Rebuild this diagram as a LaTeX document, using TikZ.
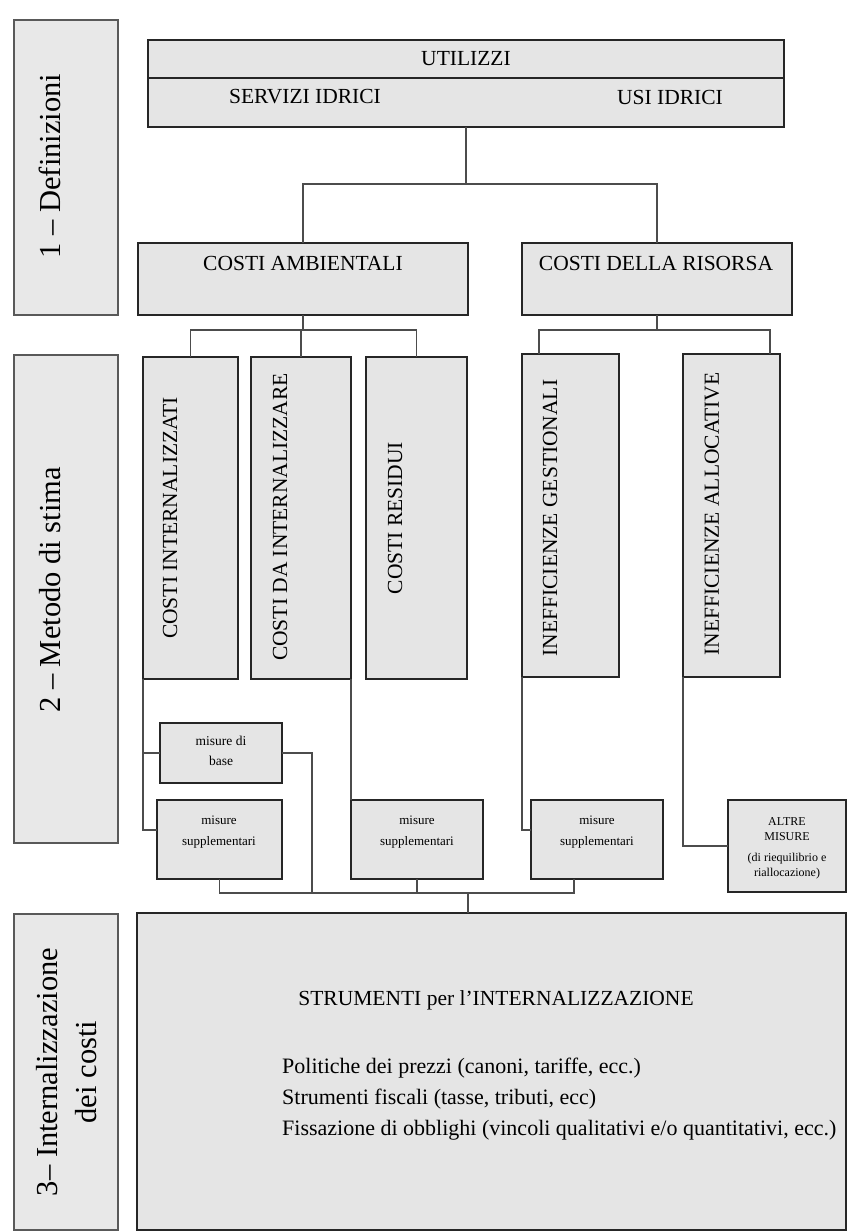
\documentclass[tikz,border=0pt]{standalone}
\usepackage{fontspec}
\setmainfont{Liberation Serif}
\begin{document}
\begin{tikzpicture}[x=1pt,y=-1pt,
  bx/.style={draw=black!85, line width=1.8pt, fill=black!10, outer sep=0pt, inner sep=0pt, anchor=north west},
  lbl/.style={draw=black!65, line width=1.5pt, fill=black!9, outer sep=0pt, inner sep=0pt, anchor=north west},
  conn/.style={draw=black!70, line width=1.4pt},
  txt/.style={font=\fontsize{21.5}{24}\selectfont, inner sep=0pt},
  vtxt/.style={txt, rotate=90},
  ltxt/.style={font=\fontsize{30.5}{39}\selectfont, inner sep=0pt, rotate=90, align=center},
  stxt/.style={font=\fontsize{13}{21}\selectfont, inner sep=0pt, align=center},
]
\useasboundingbox[fill=white] (0,0) rectangle (848,1232);

% side labels
\node[lbl, minimum width=104pt, minimum height=295pt] (l1) at (14,20) {};
\node[lbl, minimum width=104pt, minimum height=488pt] (l2) at (14,355) {};
\node[lbl, minimum width=104pt, minimum height=316pt] (l3) at (14,914) {};
\node[ltxt] (l1t) at (50,166) {1 – Definizioni};
\node[ltxt] (l2t) at (50,590) {2 – Metodo di stima};
\node[ltxt] (l3t) at (67,1072) {3– Internalizzazione\\dei costi};

% top
\node[bx, minimum width=636pt, minimum height=38pt] (utop) at (148,40) {};
\node[bx, minimum width=636pt, minimum height=49pt] (ubot) at (148,78) {};
\node[txt] (utilizzi) at (466,59) {UTILIZZI};
\node[txt] (servizi) at (305,97) {SERVIZI IDRICI};
\node[txt] (usi) at (670,97) {USI IDRICI};

\node[bx, minimum width=330pt, minimum height=72pt] (ca) at (138,243) {};
\node[bx, minimum width=270pt, minimum height=72pt] (cdr) at (522,243) {};
\node[txt] (cat) at (303,263) {COSTI AMBIENTALI};
\node[txt] (cdrt) at (656,263) {COSTI DELLA RISORSA};

% vertical boxes
\node[bx, minimum width=95pt, minimum height=322pt] (ci) at (143,357) {};
\node[bx, minimum width=100pt, minimum height=322pt] (cdi) at (251,357) {};
\node[bx, minimum width=101pt, minimum height=322pt] (cr) at (366,357) {};
\node[bx, minimum width=97pt, minimum height=323pt] (ig) at (522,354) {};
\node[bx, minimum width=97pt, minimum height=323pt] (ia) at (683,354) {};
\node[vtxt] (cit) at (170,518) {COSTI INTERNALIZZATI};
\node[vtxt] (cdit) at (280,517) {COSTI DA INTERNALIZZARE};
\node[vtxt] (crt) at (395,518) {COSTI RESIDUI};
\node[vtxt] (igt) at (550,518) {INEFFICIENZE GESTIONALI};
\node[vtxt] (iat) at (712,514) {INEFFICIENZE ALLOCATIVE};

% small boxes
\node[bx, minimum width=122pt, minimum height=60pt] (base) at (160,723) {};
\node[bx, minimum width=125pt, minimum height=79pt] (ms1) at (157,800) {};
\node[bx, minimum width=132pt, minimum height=79pt] (ms2) at (351,800) {};
\node[bx, minimum width=132pt, minimum height=79pt] (ms3) at (531,800) {};
\node[bx, minimum width=118pt, minimum height=92pt] (altre) at (728,800) {};
\node[stxt, font=\fontsize{13.5}{20}\selectfont] (baset) at (221,751) {misure di\\base};
\node[stxt] (ms1t) at (219,832) {misure\\supplementari};
\node[stxt] (ms2t) at (417,832) {misure\\supplementari};
\node[stxt] (ms3t) at (597,832) {misure\\supplementari};
\node[stxt, font=\fontsize{12}{15}\selectfont] (altret) at (787,848) {ALTRE\\MISURE\\[6pt](di riequilibrio e\\riallocazione)};

% bottom box
\node[bx, minimum width=709pt, minimum height=317pt] (big) at (137,913) {};
\node[txt] (strum) at (496,1000) {STRUMENTI per l'INTERNALIZZAZIONE};
\node[txt, font=\fontsize{22}{31}\selectfont, align=left, anchor=west] (items) at (282,1099)
  {Politiche dei prezzi (canoni, tariffe, ecc.)\\Strumenti fiscali (tasse, tributi, ecc)\\Fissazione di obblighi (vincoli qualitativi e/o quantitativi, ecc.)};

% connectors
\coordinate (j1) at (466,184);
\draw[conn] (ubot.south) -- (j1);
\draw[conn] (ca.north) |- (j1) -| (cdr.north);

\coordinate (j2) at (303,330);
\draw[conn] (ca.south) -- (j2);
\draw[conn] (ci.north) |- (j2) -| (cr.north);
\draw[conn] (cdi.north) -- (cdi.north |- j2);

\coordinate (j3) at (657,330);
\draw[conn] (cdr.south) -- (j3);
\draw[conn] ([xshift=17pt]ig.north west) |- (j3) -| ([xshift=-10pt]ia.north east);

\draw[conn] (ci.south west) |- (base.west);
\draw[conn] (ci.south west) |- ([yshift=9.5pt]ms1.west);
\draw[conn] (cdi.south east) -- (cdi.south east |- ms2.north);
\draw[conn] (ig.south west) |- ([yshift=9.5pt]ms3.west);
\draw[conn] (ia.south west) |- (altre.west);

\coordinate (bus) at (468,893);
\coordinate (bx) at (312,893);
\draw[conn] (base.east) -| (bx);
\draw[conn] (ms1.south) |- (bus);
\draw[conn] ([xshift=-23pt]ms3.south) |- (bus);
\draw[conn] (ms2.south) -- (ms2.south |- bus);
\draw[conn] (bus) -- (bus |- big.north);
\end{tikzpicture}
\end{document}
